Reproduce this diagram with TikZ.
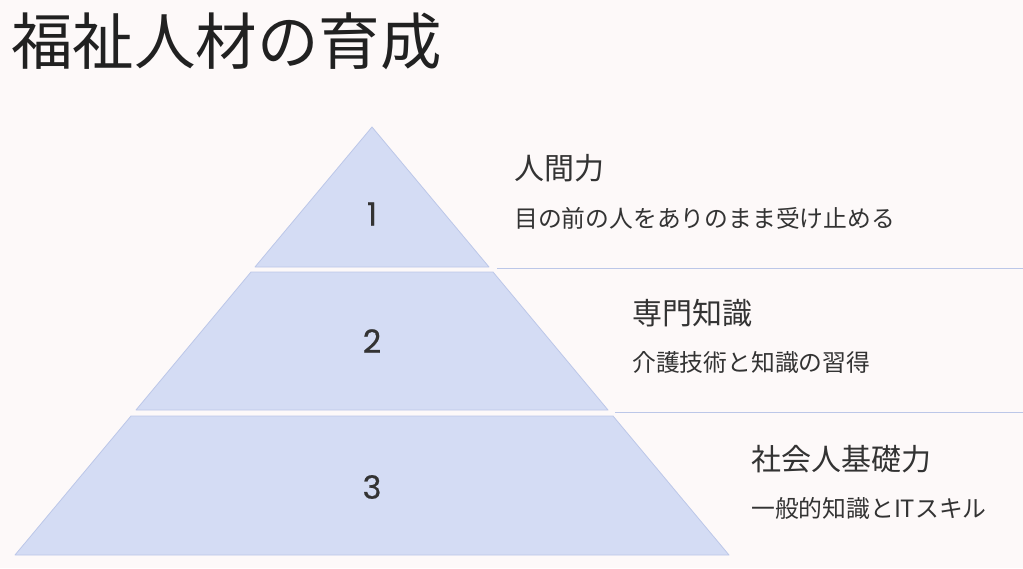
\documentclass[tikz,border=0pt]{standalone}
\usepackage{fontspec}
\setmainfont{Noto Sans CJK JP}
\newfontfamily\numfont{Poppins}[FakeBold=0.6]
\usetikzlibrary{positioning}

\definecolor{bgpink}{HTML}{FDF9F9}
\definecolor{tierfill}{HTML}{D4DCF4}
\definecolor{tieredge}{HTML}{BCC7E8}
\definecolor{inkgray}{HTML}{333333}

\tikzset{
  tier/.style={fill=tierfill, draw=tieredge, line width=0.8pt, line join=round},
  rule/.style={draw=tieredge, line width=1.2pt},
  num/.style={font=\numfont\fontsize{32}{34}\selectfont, text=inkgray, inner sep=0pt},
  head/.style={anchor=west, inner sep=0pt, font=\fontsize{30}{32}\selectfont, text=inkgray},
  sub/.style={anchor=west, inner sep=0pt, font=\fontsize{23.8}{25}\selectfont, text=inkgray}
}

\begin{document}
\begin{tikzpicture}[x=1pt, y=-1pt]
\fill[bgpink] (0,0) rectangle (1023,568);
\useasboundingbox (0,0) rectangle (1023,568);

% title
\node[anchor=west, inner sep=0pt, font=\fontsize{61.5}{64}\selectfont, text=black!87] (title) at (11,41) {福祉人材の育成};

% pyramid
\draw[tier] (372,127) -- (489,267) -- (255,267) -- cycle;
\draw[tier] (251,272) -- (493,272) -- (608,410) -- (136,410) -- cycle;
\draw[tier] (131,416) -- (613,416) -- (729,555) -- (15,555) -- cycle;

\node[num] (n1) at (372,214) {1};
\node[num] (n2) at (372,341) {2};
\node[num] (n3) at (372,487) {3};

% rules
\coordinate (r1a) at (497,268.5);
\coordinate (r1b) at (1023,268.5);
\coordinate (r2a) at (615,412.5);
\coordinate (r2b) at (1023,412.5);
\draw[rule] (r1a) -- (r1b);
\draw[rule] (r2a) -- (r2b);

% labels
\node[head] (h1) at (514,168) {人間力};
\node[sub] (s1) at (514,218) {目の前の人をありのまま受け止める};
\node[head] (h2) at (632,313) {専門知識};
\node[sub] (s2) at (632,362) {介護技術と知識の習得};
\node[head] (h3) at (751,459) {社会人基礎力};
\node[sub] (s3) at (751,508) {一般的知識とITスキル};
\end{tikzpicture}
\end{document}
